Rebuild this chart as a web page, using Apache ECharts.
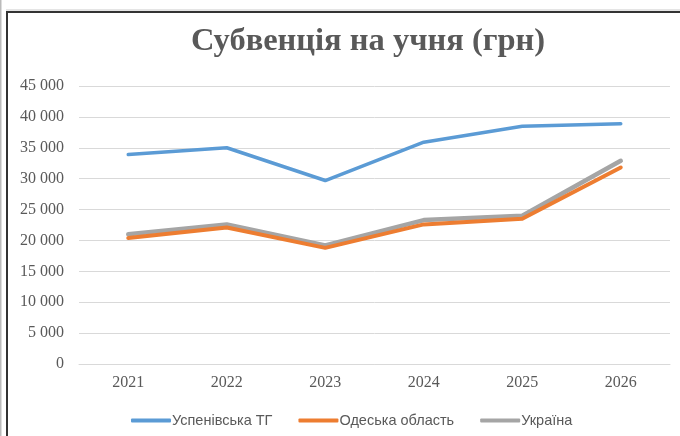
<!DOCTYPE html>
<html>
<head>
<meta charset="utf-8">
<script src="https://cdn.jsdelivr.net/npm/echarts@6/dist/echarts.min.js"></script>
<style>
  html, body { margin: 0; padding: 0; background: #fff; }
  #chart { width: 680px; height: 436px; }
</style>
</head>
<body>
<div id="chart"></div>
<script>
var years = ['2021', '2022', '2023', '2024', '2025', '2026']
var uspenivska = [33900, 35000, 29700, 35900, 38500, 38900]
var odeska = [20400, 22100, 18800, 22600, 23500, 31800]
var ukraina = [21000, 22600, 19200, 23300, 24000, 32900]
var seriesNames = ['Успенівська ТГ', 'Одеська область', 'Україна']

var chart = echarts.init(document.getElementById('chart'))

function lineSeries(name, data, color, width, z) {
  return {
    name: name,
    type: 'line',
    data: data,
    symbol: 'none',
    z: z,
    lineStyle: { color: color, width: width, cap: 'round', join: 'round' },
    itemStyle: { color: color }
  }
}

chart.setOption({
  animation: false,
  title: {
    text: 'Субвенція на учня (грн)',
    left: 363,
    top: 20,
    textAlign: 'center',
    textStyle: {
      fontFamily: 'Liberation Serif',
      fontSize: 32.5,
      fontWeight: 'bold',
      color: '#595959'
    }
  },
  // frame around the chart area
  graphic: [
    { type: 'rect', shape: { x: 0, y: 0, width: 1.5, height: 436 }, style: { fill: '#bbbbbb' } },
    { type: 'rect', shape: { x: 6, y: 11, width: 2, height: 425 }, style: { fill: '#333333' } },
    { type: 'rect', shape: { x: 6, y: 11, width: 674, height: 2 }, style: { fill: '#333333' } },
    { type: 'rect', shape: { x: 6, y: 9.5, width: 674, height: 1 }, style: { fill: '#cccccc' } }
  ],
  legend: {
    data: seriesNames,
    bottom: 3,
    left: 126,
    itemWidth: 40,
    itemHeight: 4,
    itemGap: 26,
    icon: 'roundRect',
    textStyle: {
      fontFamily: 'Liberation Sans',
      fontSize: 14.5,
      color: '#595959',
      padding: [0, 0, 0, -4]
    }
  },
  grid: {
    left: 79,
    right: 10,
    top: 86,
    bottom: 72
  },
  xAxis: {
    type: 'category',
    data: years,
    boundaryGap: true,
    axisLine: { lineStyle: { color: '#d9d9d9', width: 1 } },
    axisTick: { show: false },
    axisLabel: {
      margin: 11,
      fontFamily: 'Liberation Serif',
      fontSize: 16,
      color: '#595959'
    }
  },
  yAxis: {
    type: 'value',
    min: 0,
    max: 45000,
    interval: 5000,
    axisLine: { show: false },
    axisTick: { show: false },
    splitLine: { lineStyle: { color: '#d9d9d9', width: 1 } },
    axisLabel: {
      margin: 15,
      fontFamily: 'Liberation Serif',
      fontSize: 16,
      color: '#595959',
      formatter: function (v) {
        return String(v).replace(/\B(?=(\d{3})+(?!\d))/g, ' ')
      }
    }
  },
  series: [
    lineSeries(seriesNames[0], uspenivska, '#5b9bd5', 3.5, 3),
    lineSeries(seriesNames[1], odeska, '#ed7d31', 4, 3),
    lineSeries(seriesNames[2], ukraina, '#a5a5a5', 4.5, 2)
  ]
})
</script>
</body>
</html>
